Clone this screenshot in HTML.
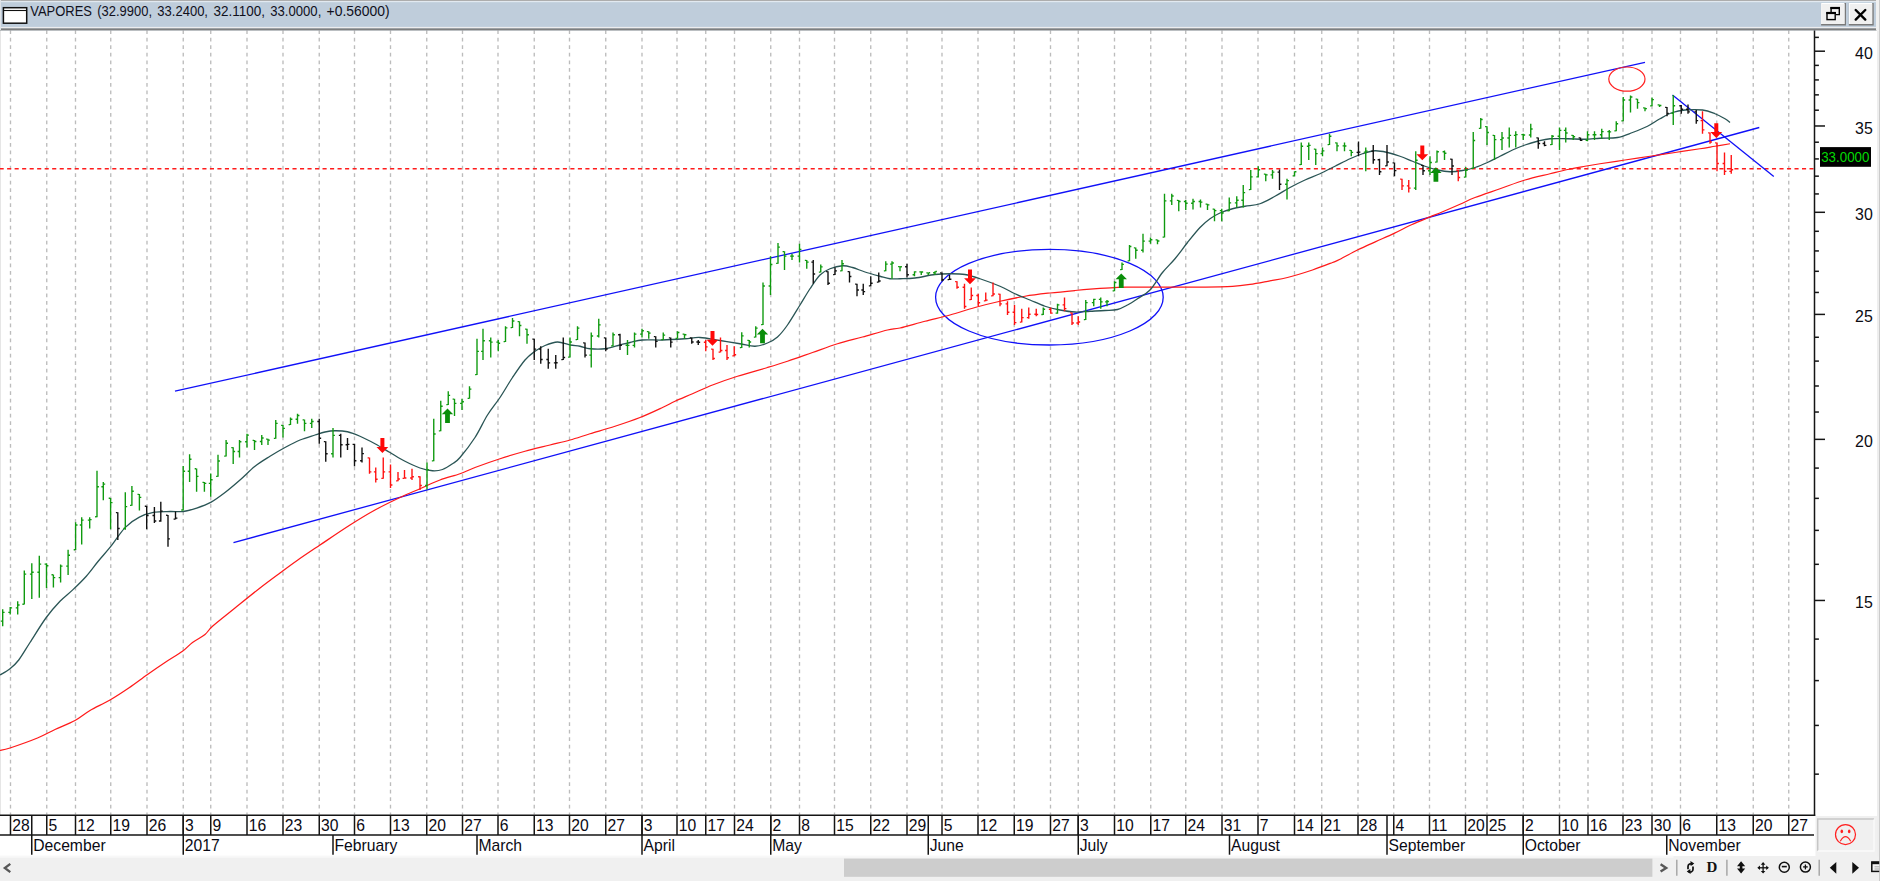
<!DOCTYPE html>
<html lang="en"><head><meta charset="utf-8"><title>VAPORES</title>
<style>
html,body{margin:0;padding:0;background:#fff;overflow:hidden}
body{width:1880px;height:881px;position:relative;font-family:"Liberation Sans",sans-serif}
svg{position:absolute;left:0;top:0;display:block}
text{font-family:"Liberation Sans",sans-serif}
.ax{font-size:15.7px;fill:#0a0a14}
.pr{font-size:15.9px;fill:#0c0c12}
</style></head><body>
<svg width="1880" height="881" viewBox="0 0 1880 881">
<rect x="0" y="0" width="1880" height="881" fill="#ffffff"/>
<rect x="0" y="30" width="1" height="851" fill="#e6e6e6"/>
<g stroke="#bcbcbc" stroke-width="1.35" stroke-dasharray="3.75 3.77" fill="none">
<line x1="10.5" y1="30.3" x2="10.5" y2="814.5"/>
<line x1="46.75" y1="30.3" x2="46.75" y2="814.5"/>
<line x1="75.5" y1="30.3" x2="75.5" y2="814.5"/>
<line x1="110.75" y1="30.3" x2="110.75" y2="814.5"/>
<line x1="147" y1="30.3" x2="147" y2="814.5"/>
<line x1="183.25" y1="30.3" x2="183.25" y2="814.5"/>
<line x1="210.75" y1="30.3" x2="210.75" y2="814.5"/>
<line x1="247" y1="30.3" x2="247" y2="814.5"/>
<line x1="283" y1="30.3" x2="283" y2="814.5"/>
<line x1="319.25" y1="30.3" x2="319.25" y2="814.5"/>
<line x1="354.5" y1="30.3" x2="354.5" y2="814.5"/>
<line x1="390.5" y1="30.3" x2="390.5" y2="814.5"/>
<line x1="426.75" y1="30.3" x2="426.75" y2="814.5"/>
<line x1="462.5" y1="30.3" x2="462.5" y2="814.5"/>
<line x1="498" y1="30.3" x2="498" y2="814.5"/>
<line x1="534.25" y1="30.3" x2="534.25" y2="814.5"/>
<line x1="569.5" y1="30.3" x2="569.5" y2="814.5"/>
<line x1="605.75" y1="30.3" x2="605.75" y2="814.5"/>
<line x1="642" y1="30.3" x2="642" y2="814.5"/>
<line x1="677" y1="30.3" x2="677" y2="814.5"/>
<line x1="705.75" y1="30.3" x2="705.75" y2="814.5"/>
<line x1="734.5" y1="30.3" x2="734.5" y2="814.5"/>
<line x1="770.75" y1="30.3" x2="770.75" y2="814.5"/>
<line x1="799.5" y1="30.3" x2="799.5" y2="814.5"/>
<line x1="834.5" y1="30.3" x2="834.5" y2="814.5"/>
<line x1="870.75" y1="30.3" x2="870.75" y2="814.5"/>
<line x1="907" y1="30.3" x2="907" y2="814.5"/>
<line x1="942" y1="30.3" x2="942" y2="814.5"/>
<line x1="978" y1="30.3" x2="978" y2="814.5"/>
<line x1="1014.25" y1="30.3" x2="1014.25" y2="814.5"/>
<line x1="1050.5" y1="30.3" x2="1050.5" y2="814.5"/>
<line x1="1078.25" y1="30.3" x2="1078.25" y2="814.5"/>
<line x1="1114.5" y1="30.3" x2="1114.5" y2="814.5"/>
<line x1="1150.75" y1="30.3" x2="1150.75" y2="814.5"/>
<line x1="1185.75" y1="30.3" x2="1185.75" y2="814.5"/>
<line x1="1222" y1="30.3" x2="1222" y2="814.5"/>
<line x1="1258" y1="30.3" x2="1258" y2="814.5"/>
<line x1="1294.5" y1="30.3" x2="1294.5" y2="814.5"/>
<line x1="1321.75" y1="30.3" x2="1321.75" y2="814.5"/>
<line x1="1358" y1="30.3" x2="1358" y2="814.5"/>
<line x1="1393.75" y1="30.3" x2="1393.75" y2="814.5"/>
<line x1="1429.5" y1="30.3" x2="1429.5" y2="814.5"/>
<line x1="1465.5" y1="30.3" x2="1465.5" y2="814.5"/>
<line x1="1487" y1="30.3" x2="1487" y2="814.5"/>
<line x1="1523.25" y1="30.3" x2="1523.25" y2="814.5"/>
<line x1="1559.5" y1="30.3" x2="1559.5" y2="814.5"/>
<line x1="1588" y1="30.3" x2="1588" y2="814.5"/>
<line x1="1623" y1="30.3" x2="1623" y2="814.5"/>
<line x1="1652" y1="30.3" x2="1652" y2="814.5"/>
<line x1="1680.5" y1="30.3" x2="1680.5" y2="814.5"/>
<line x1="1716.75" y1="30.3" x2="1716.75" y2="814.5"/>
<line x1="1753.25" y1="30.3" x2="1753.25" y2="814.5"/>
<line x1="1788.75" y1="30.3" x2="1788.75" y2="814.5"/>
</g>
<line x1="-0.4" y1="168.7" x2="1813.5" y2="168.7" stroke="#ff1c1c" stroke-width="1.4" stroke-dasharray="4.1 3.41"/>
<g stroke="#1010f8" stroke-width="1.3" fill="none">
<line x1="175" y1="391.2" x2="1645" y2="62.3"/>
<line x1="233.5" y1="542.6" x2="1759.3" y2="127.5"/>
<line x1="1672.5" y1="95" x2="1773.8" y2="176.5"/>
<ellipse cx="1049.4" cy="297.2" rx="113.8" ry="47.8"/>
</g>
<ellipse cx="1626.9" cy="79.1" rx="18.1" ry="12.1" fill="none" stroke="#ff2020" stroke-width="1.2"/>
<path d="M0 750.5C1.67 750.08 3.75 750.08 10 748C16.25 745.92 30 741.08 37.5 738C45 734.92 48.75 732.42 55 729.5C61.25 726.58 69.17 723.67 75 720.5C80.83 717.33 84.17 713.92 90 710.5C95.83 707.08 103.54 703.75 110 700C116.46 696.25 122.5 692.25 128.75 688C135 683.75 141.46 678.75 147.5 674.5C153.54 670.25 159.17 666.38 165 662.5C170.83 658.62 177.92 654.58 182.5 651.25C187.08 647.92 188.75 645.29 192.5 642.5C196.25 639.71 201.67 637.21 205 634.5C208.33 631.79 207.5 630.67 212.5 626.25C217.5 621.83 227.08 614.38 235 608C242.92 601.62 252.5 593.83 260 588C267.5 582.17 273.75 577.62 280 573C286.25 568.38 290.83 564.92 297.5 560.25C304.17 555.58 311.25 550.88 320 545C328.75 539.12 340.83 530.83 350 525C359.17 519.17 366.67 514.58 375 510C383.33 505.42 392.5 501.04 400 497.5C407.5 493.96 413.33 491.67 420 488.75C426.67 485.83 433.33 482.5 440 480C446.67 477.5 454.17 475.83 460 473.75C465.83 471.67 468.33 470 475 467.5C481.67 465 491.67 461.46 500 458.75C508.33 456.04 516.67 453.54 525 451.25C533.33 448.96 542.5 446.88 550 445C557.5 443.12 563.33 441.88 570 440C576.67 438.12 582.5 436.04 590 433.75C597.5 431.46 606.67 428.96 615 426.25C623.33 423.54 632.08 420.62 640 417.5C647.92 414.38 656.67 410.21 662.5 407.5C668.33 404.79 670 403.54 675 401.25C680 398.96 686.25 396.46 692.5 393.75C698.75 391.04 705 387.92 712.5 385C720 382.08 728.33 379.17 737.5 376.25C746.67 373.33 759.17 370 767.5 367.5C775.83 365 780 363.75 787.5 361.25C795 358.75 804.17 355.42 812.5 352.5C820.83 349.58 829.17 346.33 837.5 343.75C845.83 341.17 854.17 339.29 862.5 337C870.83 334.71 881.25 331.5 887.5 330C893.75 328.5 893.75 329.46 900 328C906.25 326.54 916.67 323.42 925 321.25C933.33 319.08 941.67 317.29 950 315C958.33 312.71 966.67 309.79 975 307.5C983.33 305.21 991.67 303.12 1000 301.25C1008.33 299.38 1016.67 297.62 1025 296.25C1033.33 294.88 1041.67 293.96 1050 293C1058.33 292.04 1066.67 291.27 1075 290.5C1083.33 289.73 1092.83 288.93 1100 288.4C1107.17 287.87 1112.17 287.5 1118 287.3C1123.83 287.1 1126.33 287.22 1135 287.2C1143.67 287.18 1159.17 287.22 1170 287.2C1180.83 287.18 1189.58 287.25 1200 287.1C1210.42 286.95 1224.17 286.75 1232.5 286.3C1240.83 285.85 1243.75 285.32 1250 284.4C1256.25 283.48 1263.75 281.95 1270 280.8C1276.25 279.65 1280.42 279.3 1287.5 277.5C1294.58 275.7 1305 272.5 1312.5 270C1320 267.5 1327.92 264.29 1332.5 262.5C1337.08 260.71 1335.77 261.38 1340 259.25C1344.23 257.12 1351.94 252.69 1357.9 249.75C1363.86 246.81 1369.72 244.32 1375.75 241.6C1381.78 238.88 1388.14 236.22 1394.1 233.4C1400.06 230.58 1405.62 227.42 1411.5 224.7C1417.38 221.98 1424.3 219.22 1429.4 217.1C1434.5 214.98 1437 214.13 1442.1 212C1447.2 209.87 1454.52 206.72 1460 204.3C1465.48 201.88 1468.33 200.09 1475 197.5C1481.67 194.91 1491.67 191.67 1500 188.75C1508.33 185.83 1516.67 182.5 1525 180C1533.33 177.5 1542.92 175.5 1550 173.75C1557.08 172 1561.67 170.75 1567.5 169.5C1573.33 168.25 1579.58 167.21 1585 166.25C1590.42 165.29 1593.33 164.79 1600 163.75C1606.67 162.71 1616.67 161.25 1625 160C1633.33 158.75 1641.67 157.5 1650 156.25C1658.33 155 1666.67 153.75 1675 152.5C1683.33 151.25 1693.33 149.79 1700 148.75C1706.67 147.71 1710 147.08 1715 146.25C1720 145.42 1727.5 144.17 1730 143.75" fill="none" stroke="#ff1a1a" stroke-width="1.25" stroke-linejoin="round"/>
<path d="M0 675C1.67 673.96 6.88 671.25 10 668.75C13.12 666.25 15.42 664.38 18.75 660C22.08 655.62 25.42 649.58 30 642.5C34.58 635.42 41.25 624.38 46.25 617.5C51.25 610.62 55.59 605.85 60 601.25C64.41 596.65 68.32 594.07 72.7 589.9C77.08 585.73 82.08 580.93 86.3 576.2C90.52 571.47 93.95 566.42 98 561.5C102.05 556.58 106.05 552.38 110.6 546.7C115.15 541.02 120.5 532.32 125.3 527.4C130.1 522.48 134.55 519.73 139.4 517.2C144.25 514.67 149.3 513.15 154.4 512.2C159.5 511.25 165.2 511.62 170 511.5C174.8 511.38 178.77 512.07 183.2 511.5C187.63 510.93 192.02 509.62 196.6 508.1C201.18 506.58 205.97 505 210.7 502.4C215.43 499.8 220.12 496.23 225 492.5C229.88 488.77 235 484.38 240 480C245 475.62 250 470.21 255 466.25C260 462.29 265 459.38 270 456.25C275 453.12 280 450.21 285 447.5C290 444.79 295 442.08 300 440C305 437.92 310.83 436.33 315 435C319.17 433.67 321.67 432.71 325 432C328.33 431.29 331.25 430.79 335 430.75C338.75 430.71 343.33 430.83 347.5 431.75C351.67 432.67 355.42 434.25 360 436.25C364.58 438.25 370 441.04 375 443.75C380 446.46 385 449.58 390 452.5C395 455.42 400 458.67 405 461.25C410 463.83 415.42 466.42 420 468C424.58 469.58 428.75 470.5 432.5 470.75C436.25 471 439.17 470.67 442.5 469.5C445.83 468.33 449.58 465.75 452.5 463.75C455.42 461.75 456.25 461.88 460 457.5C463.75 453.12 470.42 444.58 475 437.5C479.58 430.42 483.33 421.67 487.5 415C491.67 408.33 495.83 403.75 500 397.5C504.17 391.25 508.33 383.75 512.5 377.5C516.67 371.25 521.25 364.38 525 360C528.75 355.62 531.67 353.67 535 351.25C538.33 348.83 541.25 347.04 545 345.5C548.75 343.96 553.33 342.08 557.5 342C561.67 341.92 566.25 344.29 570 345C573.75 345.71 576.67 345.62 580 346.25C583.33 346.88 585.83 348.33 590 348.75C594.17 349.17 600 349.38 605 348.75C610 348.12 615.83 346.04 620 345C624.17 343.96 626.25 343.33 630 342.5C633.75 341.67 637.08 340.42 642.5 340C647.92 339.58 655.42 340.21 662.5 340C669.58 339.79 678.75 339.17 685 338.75C691.25 338.33 694.17 337.21 700 337.5C705.83 337.79 713.33 339.46 720 340.5C726.67 341.54 734.17 342.79 740 343.75C745.83 344.71 750.42 346.38 755 346.25C759.58 346.12 763.75 344.54 767.5 343C771.25 341.46 774.17 340 777.5 337C780.83 334 783.75 330.33 787.5 325C791.25 319.67 796.25 311.04 800 305C803.75 298.96 806.67 293.75 810 288.75C813.33 283.75 816.67 278.33 820 275C823.33 271.67 826.25 270.29 830 268.75C833.75 267.21 838.75 265.96 842.5 265.75C846.25 265.54 848.75 266.46 852.5 267.5C856.25 268.54 860.42 270.54 865 272C869.58 273.46 875.83 275.12 880 276.25C884.17 277.38 886.67 278.33 890 278.75C893.33 279.17 895.83 278.88 900 278.75C904.17 278.62 909.17 278.71 915 278C920.83 277.29 929.17 275.21 935 274.5C940.83 273.79 945 273.75 950 273.75C955 273.75 960 273.67 965 274.5C970 275.33 974.17 276.79 980 278.75C985.83 280.71 994.17 283.75 1000 286.25C1005.83 288.75 1010 291.46 1015 293.75C1020 296.04 1025 297.92 1030 300C1035 302.08 1040 304.58 1045 306.25C1050 307.92 1055 309.04 1060 310C1065 310.96 1070 311.79 1075 312C1080 312.21 1085 311.5 1090 311.25C1095 311 1100.42 310.79 1105 310.5C1109.58 310.21 1113.75 310.42 1117.5 309.5C1121.25 308.58 1124.17 306.79 1127.5 305C1130.83 303.21 1133.75 301.25 1137.5 298.75C1141.25 296.25 1145.83 294.38 1150 290C1154.17 285.62 1158.33 277.71 1162.5 272.5C1166.67 267.29 1170.83 263.75 1175 258.75C1179.17 253.75 1183.33 247.71 1187.5 242.5C1191.67 237.29 1196.25 231.46 1200 227.5C1203.75 223.54 1206.67 221.17 1210 218.75C1213.33 216.33 1216.25 214.67 1220 213C1223.75 211.33 1228.33 209.88 1232.5 208.75C1236.67 207.62 1240.42 207.08 1245 206.25C1249.58 205.42 1255 205.42 1260 203.75C1265 202.08 1270 198.96 1275 196.25C1280 193.54 1285 190.21 1290 187.5C1295 184.79 1300 182.29 1305 180C1310 177.71 1315 176.04 1320 173.75C1325 171.46 1330 168.75 1335 166.25C1340 163.75 1345.42 160.83 1350 158.75C1354.58 156.67 1358.33 155.08 1362.5 153.75C1366.67 152.42 1370.83 150.96 1375 150.75C1379.17 150.54 1383.33 151.58 1387.5 152.5C1391.67 153.42 1395.83 154.79 1400 156.25C1404.17 157.71 1408.33 159.58 1412.5 161.25C1416.67 162.92 1420.83 164.79 1425 166.25C1429.17 167.71 1433.33 169.08 1437.5 170C1441.67 170.92 1445.83 171.67 1450 171.75C1454.17 171.83 1458.33 171.21 1462.5 170.5C1466.67 169.79 1470.83 168.83 1475 167.5C1479.17 166.17 1483.33 164.38 1487.5 162.5C1491.67 160.62 1495.83 158.33 1500 156.25C1504.17 154.17 1508.33 151.88 1512.5 150C1516.67 148.12 1520.83 146.46 1525 145C1529.17 143.54 1533.33 142.29 1537.5 141.25C1541.67 140.21 1545 139.17 1550 138.75C1555 138.33 1561.67 138.67 1567.5 138.75C1573.33 138.83 1579.58 139.33 1585 139.25C1590.42 139.17 1594.58 138.54 1600 138.25C1605.42 137.96 1612.08 138.46 1617.5 137.5C1622.92 136.54 1627.5 134.38 1632.5 132.5C1637.5 130.62 1642.92 128.54 1647.5 126.25C1652.08 123.96 1655.83 121.04 1660 118.75C1664.17 116.46 1668.33 113.96 1672.5 112.5C1676.67 111.04 1680 110.42 1685 110C1690 109.58 1697.5 109.38 1702.5 110C1707.5 110.62 1711.25 112.29 1715 113.75C1718.75 115.21 1722.5 117.29 1725 118.75C1727.5 120.21 1729.17 121.88 1730 122.5" fill="none" stroke="#2a5555" stroke-width="1.3" stroke-linejoin="round"/>
<path d="M2.7 609.2V626.2M0.8 621.1h1.4M3.2 612.32h1.4M10.2 606.9V614.4M8.3 612.32h1.4M10.7 607.86h1.4M17.7 601.2V614.4M15.8 607.86h1.4M18.2 605.01h1.4M24.3 570.6V604.6M22.4 604.2h1.4M24.8 574.11h1.4M31.8 563.3V599M29.9 574.11h1.4M32.3 572.28h1.4M39.3 555.8V597.8M37.4 572.28h1.4M39.8 564.07h1.4M46.5 563.3V588M44.6 564.07h1.4M47 565.73h1.4M53.4 574.4V587.6M51.5 574.8h1.4M53.9 577.6h1.4M60.6 564.4V582.6M58.7 577.6h1.4M61.1 566.07h1.4M68.1 549.7V575.1M66.2 566.07h1.4M68.6 555.26h1.4M75.6 522.2V550.1M73.7 549.7h1.4M76.1 525.06h1.4M81.7 517.2V544.5M79.8 525.06h1.4M82.2 520.18h1.4M89.7 517.2V528.6M87.8 520.18h1.4M90.2 519.66h1.4M97 470.7V517.2M95.1 516.8h1.4M97.5 486.72h1.4M103.3 482V500.2M101.4 486.72h1.4M103.8 484.18h1.4M110.6 497.9V529.2M108.7 498.3h1.4M111.1 502.64h1.4M125.3 492.2V529.7M123.4 528.44h1.4M125.8 506.57h1.4M131.9 486.1V505.8M130 505.4h1.4M132.4 491.31h1.4M139.4 494V510.4M137.5 494.4h1.4M139.9 497.39h1.4M183.2 466.1V510.4M181.3 510h1.4M183.7 471.31h1.4M189.6 454.3V482M187.7 471.31h1.4M190.1 459.25h1.4M196.6 468.4V491.8M194.7 468.8h1.4M197.1 476.38h1.4M204.4 482V491.8M202.5 482.4h1.4M204.9 483.35h1.4M210.7 473.6V496.8M208.8 483.35h1.4M211.2 479.77h1.4M218 454.8V476.8M216.1 476.4h1.4M218.5 461.06h1.4M226.1 440V456.5M224.2 456.1h1.4M226.6 443.29h1.4M233.2 447.2V464M231.3 447.6h1.4M233.7 451.49h1.4M239.5 440V457.5M237.6 451.49h1.4M240 441.75h1.4M247 433.75V447.5M245.1 441.75h1.4M247.5 435.11h1.4M254.5 440V450M252.6 440.4h1.4M255 441.46h1.4M261.75 435V445M259.85 441.46h1.4M262.25 437.98h1.4M268 438.75V445M266.1 439.15h1.4M268.5 440.11h1.4M275.75 420V438.75M273.85 438.35h1.4M276.25 423.38h1.4M283 425V437.5M281.1 425.4h1.4M283.5 428.34h1.4M290.5 417.5V425M288.6 424.6h1.4M291 419.19h1.4M297.5 413.75V423.75M295.6 419.19h1.4M298 415.51h1.4M304.5 419.5V431.25M302.6 419.9h1.4M305 423.43h1.4M311.75 418.75V428M309.85 423.43h1.4M312.25 421.56h1.4M333 428V457.5M331.1 453.81h1.4M333.5 435.32h1.4M427 462.5V489.5M425.1 485.54h1.4M427.5 469.61h1.4M433.75 418.75V461.25M431.85 460.85h1.4M434.25 434.06h1.4M440.75 400.75V431.25M438.85 430.85h1.4M441.25 406.25h1.4M448.25 391.25V405M446.35 404.6h1.4M448.75 395.41h1.4M454.5 398.75V416M452.6 399.15h1.4M455 403.41h1.4M462 398.75V410M460.1 403.41h1.4M462.5 401.74h1.4M469.5 386.25V398.75M467.6 398.35h1.4M470 389.07h1.4M477 338.75V375M475.1 374.6h1.4M477.5 351.39h1.4M483 328.75V360M481.1 351.39h1.4M483.5 340.7h1.4M490.75 337.5V357.5M488.85 340.7h1.4M491.25 342.13h1.4M498.25 340V351.25M496.35 342.13h1.4M498.75 343.29h1.4M505.5 326.25V342M503.6 341.6h1.4M506 327.82h1.4M512.5 318V328M510.6 327.6h1.4M513 321.04h1.4M519.5 321.25V336.25M517.6 321.65h1.4M520 325.56h1.4M527 328.75V343.75M525.1 329.15h1.4M527.5 334.72h1.4M570 337.5V357.5M568.1 357.1h1.4M570.5 342.05h1.4M577.5 326.25V340M575.6 339.6h1.4M578 328.09h1.4M591.25 332.5V367.5M589.35 355.12h1.4M591.75 335.96h1.4M598.75 318.75V337.5M596.85 335.96h1.4M599.25 324.86h1.4M613 332.5V346.25M611.1 345.85h1.4M613.5 334.69h1.4M627.5 340V355M625.6 345.2h1.4M628 345.38h1.4M634.5 332.5V347.5M632.6 345.38h1.4M635 334.09h1.4M642 328.75V337.5M640.1 334.09h1.4M642.5 330.71h1.4M648.75 331.25V338.75M646.85 331.65h1.4M649.25 333.17h1.4M663.25 332.5V340M661.35 339.6h1.4M663.75 335.07h1.4M677.5 331.25V338.75M675.6 338.35h1.4M678 332.52h1.4M684.5 333.75V338.75M682.6 334.15h1.4M685 334.81h1.4M741.75 332.2V348M739.85 347.6h1.4M742.25 335.92h1.4M749.25 340V347.5M747.35 340.4h1.4M749.75 342.01h1.4M755.75 326.25V337.5M753.85 337.1h1.4M756.25 328.1h1.4M763 282.5V325M761.1 324.6h1.4M763.5 285.96h1.4M770.5 256.25V295M768.6 285.96h1.4M771 264.54h1.4M778 243V263.75M776.1 263.35h1.4M778.5 247.11h1.4M784.5 251.25V270M782.6 251.65h1.4M785 256.15h1.4M792 253.75V260M790.1 256.15h1.4M792.5 256.16h1.4M799.5 243.75V262.5M797.6 256.16h1.4M800 249.39h1.4M806.75 260V268.75M804.85 260.4h1.4M807.25 262.14h1.4M820.75 264.5V272.5M818.85 272.1h1.4M821.25 266.87h1.4M842 260V271.25M840.1 270.85h1.4M842.5 263.71h1.4M885.75 261.25V271.25M883.85 270.85h1.4M886.25 264.08h1.4M892 261.25V278.75M890.1 264.08h1.4M892.5 263h1.4M900 266.25V271.25M898.1 266.65h1.4M900.5 266.76h1.4M914.5 271.25V276.25M912.6 274.69h1.4M915 271.91h1.4M921.25 271.25V275M919.35 271.91h1.4M921.75 271.96h1.4M928.25 272.5V275M926.35 272.9h1.4M928.75 272.74h1.4M935 271.25V275M933.1 272.74h1.4M935.5 271.55h1.4M1043.25 307.5V315M1041.35 314.53h1.4M1043.75 309.26h1.4M1057.5 303.75V313.75M1055.6 313.08h1.4M1058 304.88h1.4M1085.75 300V320M1083.85 319.6h1.4M1086.25 302.63h1.4M1093.75 298.75V306.25M1091.85 302.63h1.4M1094.25 299.41h1.4M1100.75 297.5V308.75M1098.85 299.41h1.4M1101.25 301.82h1.4M1107 300V306.25M1105.1 301.82h1.4M1107.5 301.56h1.4M1114.5 281.25V291.25M1112.6 290.85h1.4M1115 282.52h1.4M1122 262.5V270M1120.1 269.6h1.4M1122.5 264.4h1.4M1129.5 245V261.25M1127.6 260.85h1.4M1130 246.44h1.4M1135.75 247.5V258.75M1133.85 247.9h1.4M1136.25 250.3h1.4M1143 233.75V252.5M1141.1 250.3h1.4M1143.5 241.12h1.4M1150.5 237.5V243.75M1148.6 241.12h1.4M1151 239.73h1.4M1157.5 239.5V244.25M1155.6 239.9h1.4M1158 240.94h1.4M1164.5 193.75V237.5M1162.6 237.1h1.4M1165 200.91h1.4M1171.75 193.75V205M1169.85 200.91h1.4M1172.25 195.97h1.4M1178.75 200V211.25M1176.85 200.4h1.4M1179.25 201.5h1.4M1185.75 200V210M1183.85 201.5h1.4M1186.25 203.27h1.4M1193 198.75V209.5M1191.1 203.27h1.4M1193.5 201.44h1.4M1200.5 199.5V207.5M1198.6 201.44h1.4M1201 202.13h1.4M1207.5 203.75V210M1205.6 204.15h1.4M1208 204.91h1.4M1214.5 208.75V221.25M1212.6 209.15h1.4M1215 210.64h1.4M1221.75 208.75V221.25M1219.85 210.64h1.4M1222.25 213h1.4M1229.25 197.5V211.25M1227.35 210.85h1.4M1229.75 202.93h1.4M1236.75 196.25V207.5M1234.85 202.93h1.4M1237.25 200.22h1.4M1243.25 185V207.5M1241.35 200.22h1.4M1243.75 192.6h1.4M1250.75 170V190M1248.85 189.6h1.4M1251.25 176.84h1.4M1258.25 166.25V177.5M1256.35 176.84h1.4M1258.75 169.81h1.4M1265.75 173.75V181.25M1263.85 174.15h1.4M1266.25 174.89h1.4M1272.5 170V178.75M1270.6 174.89h1.4M1273 172.15h1.4M1287 178.75V199.5M1285.1 184.31h1.4M1287.5 180.6h1.4M1294.5 171.25V176.25M1292.6 175.85h1.4M1295 171.69h1.4M1301.25 142.5V165M1299.35 164.6h1.4M1301.75 146.31h1.4M1308.75 142.5V160M1306.85 146.31h1.4M1309.25 145.35h1.4M1315.75 148.75V165M1313.85 149.15h1.4M1316.25 153.65h1.4M1322.5 147.5V156.25M1320.6 153.65h1.4M1323 150.88h1.4M1329.5 133.75V145M1327.6 144.6h1.4M1330 136.26h1.4M1337 142.5V151.25M1335.1 142.9h1.4M1337.5 145.82h1.4M1344.5 142.5V151.25M1342.6 145.82h1.4M1345 145.97h1.4M1351.25 150V156.25M1349.35 150.4h1.4M1351.75 152.41h1.4M1365.75 147.5V171.25M1363.85 152.09h1.4M1366.25 151.08h1.4M1415.75 151.25V190M1413.85 188.14h1.4M1416.25 160.3h1.4M1430 156.25V175M1428.1 170.74h1.4M1430.5 162.55h1.4M1437 150.5V162.5M1435.1 162.1h1.4M1437.5 151.79h1.4M1444.5 150.5V160M1442.6 151.79h1.4M1445 153.27h1.4M1465.75 167V177.5M1463.85 177.1h1.4M1466.25 170.36h1.4M1473.25 132V168.75M1471.35 168.35h1.4M1473.75 140.56h1.4M1480.75 118V128.75M1478.85 128.35h1.4M1481.25 119.47h1.4M1487 126.25V145M1485.1 126.65h1.4M1487.5 132.48h1.4M1494.5 135V160M1492.6 135.4h1.4M1495 139.66h1.4M1502 132V150M1500.1 139.66h1.4M1502.5 138.05h1.4M1509.25 127.5V147.5M1507.35 138.05h1.4M1509.75 135.32h1.4M1515.75 131.25V147.5M1513.85 135.32h1.4M1516.25 134.61h1.4M1523.25 133.75V140M1521.35 134.61h1.4M1523.75 135.05h1.4M1530.75 123.75V137.5M1528.85 135.05h1.4M1531.25 129.02h1.4M1552 135V145M1550.1 144.6h1.4M1552.5 136.21h1.4M1559.5 127.5V150M1557.6 136.21h1.4M1560 130.39h1.4M1565.75 127.5V142.5M1563.85 130.39h1.4M1566.25 133.04h1.4M1573.25 135V140M1571.35 135.4h1.4M1573.75 136.69h1.4M1587.5 131.25V141.25M1585.6 140.39h1.4M1588 134.69h1.4M1594.5 131.25V140M1592.6 134.69h1.4M1595 134.69h1.4M1601.75 128.75V138.75M1599.85 134.69h1.4M1602.25 131.65h1.4M1609.25 130V140M1607.35 131.65h1.4M1609.75 131.92h1.4M1616.25 121.25V131.25M1614.35 130.85h1.4M1616.75 123.81h1.4M1623.25 97V121.25M1621.35 120.85h1.4M1623.75 99.96h1.4M1630.5 95.5V112.5M1628.6 99.96h1.4M1631 96.94h1.4M1637.5 98.75V108.75M1635.6 99.15h1.4M1638 102.66h1.4M1645 107.5V111.25M1643.1 107.9h1.4M1645.5 108.58h1.4M1652 97.5V106.25M1650.1 105.85h1.4M1652.5 99.67h1.4M1659.5 104.5V107M1657.6 104.9h1.4M1660 105.45h1.4M1673.25 95V125M1671.35 113.32h1.4M1673.75 105.77h1.4" stroke="#0f9a0f" stroke-width="1.38" fill="none"/>
<path d="M117.8 512.2V539.9M115.9 512.6h1.4M118.3 528.44h1.4M146.7 505.8V529.2M144.8 506.2h1.4M147.2 515.44h1.4M154.4 507V522.9M152.5 515.44h1.4M154.9 520.94h1.4M160.8 501.8V521.7M158.9 520.94h1.4M161.3 511.17h1.4M168 514.9V546.7M166.1 515.3h1.4M168.5 538.92h1.4M175.5 511.5V519.5M173.6 519.1h1.4M176 518.12h1.4M319.25 418.75V443.75M317.35 421.56h1.4M319.75 438.2h1.4M325.75 441.25V461.75M323.85 441.65h1.4M326.25 453.81h1.4M340.75 433.75V457.5M338.85 435.32h1.4M341.25 444.73h1.4M347.5 438V450M345.6 444.73h1.4M348 444.42h1.4M354.5 443.75V466.25M352.6 444.42h1.4M355 460.76h1.4M362 447.5V462.5M360.1 460.76h1.4M362.5 453.65h1.4M534.25 338.75V360M532.35 339.15h1.4M534.75 349.14h1.4M540.75 346.25V363.75M538.85 349.14h1.4M541.25 359.51h1.4M548.25 348.75V368.75M546.35 359.51h1.4M548.75 362.89h1.4M555.75 355V368.75M553.85 362.89h1.4M556.25 362.78h1.4M563.25 337.5V360M561.35 359.6h1.4M563.75 357.5h1.4M585 342.5V357.5M583.1 342.9h1.4M585.5 355.12h1.4M605.75 337.5V351.25M603.85 337.9h1.4M606.25 348.99h1.4M620 333.75V350M618.1 334.69h1.4M620.5 345.2h1.4M655.75 336.25V347.5M653.85 336.65h1.4M656.25 341.41h1.4M670.75 337.5V347.5M668.85 337.9h1.4M671.25 342.18h1.4M691.75 337.5V343.75M689.85 337.9h1.4M692.25 342h1.4M698.25 340V345M696.35 342h1.4M698.75 342.29h1.4M813.25 260V283.75M811.35 262.14h1.4M813.75 274.04h1.4M828 271.25V285M826.1 271.65h1.4M828.5 283.25h1.4M835 267.5V275M833.1 274.6h1.4M835.5 270.88h1.4M849.5 271.25V282.5M847.6 271.65h1.4M850 276.46h1.4M857 283.75V296.25M855.1 284.15h1.4M857.5 290.01h1.4M863.25 283.75V295M861.35 290.01h1.4M863.75 291.67h1.4M870.75 276.25V286.25M868.85 285.85h1.4M871.25 283.26h1.4M878.75 272.5V282.5M876.85 282.1h1.4M879.25 280.98h1.4M907 263.75V277.5M905.1 266.76h1.4M907.5 274.69h1.4M942 272.5V281.25M940.1 272.9h1.4M942.5 279.71h1.4M949.5 275V280M947.6 279.6h1.4M950 279.25h1.4M1279.5 169.5V190M1277.6 172.15h1.4M1280 184.31h1.4M1358.5 141.5V156.25M1356.6 152.41h1.4M1359 152.09h1.4M1373.25 145V163.75M1371.35 151.08h1.4M1373.75 159.75h1.4M1379.5 158.75V175M1377.6 159.75h1.4M1380 171.78h1.4M1387 145V166.25M1385.1 165.85h1.4M1387.5 161.95h1.4M1394.5 162.5V176.25M1392.6 162.9h1.4M1395 170.58h1.4M1423 165V175M1421.1 165.4h1.4M1423.5 170.74h1.4M1452 158.75V175M1450.1 159.15h1.4M1452.5 165.98h1.4M1538.25 137.5V148.75M1536.35 137.9h1.4M1538.75 143.55h1.4M1544.5 141.25V146.25M1542.6 143.55h1.4M1545 145.32h1.4M1580.5 137.5V141M1578.6 137.9h1.4M1581 140.39h1.4M1667 107V116.25M1665.1 107.4h1.4M1667.5 113.32h1.4M1681.25 105V113.75M1679.35 105.77h1.4M1681.75 109.26h1.4M1688 104.5V113.75M1686.1 109.26h1.4M1688.5 111.85h1.4M1696.25 110V123.75M1694.35 111.85h1.4M1696.75 120.64h1.4" stroke="#101010" stroke-width="1.38" fill="none"/>
<path d="M369.5 457.5V473.75M367.6 457.9h1.4M370 471.84h1.4M375.75 467.5V482.5M373.85 471.84h1.4M376.25 479.29h1.4M383.25 457.5V478.75M381.35 478.35h1.4M383.75 471.9h1.4M390.5 464.5V488M388.6 471.9h1.4M391 484.98h1.4M398 472V481.25M396.1 480.85h1.4M398.5 479.06h1.4M404.5 470V478.75M402.6 478.35h1.4M405 477.94h1.4M412 468.75V480M410.1 477.94h1.4M412.5 476.69h1.4M420 476.25V490M418.1 476.69h1.4M420.5 485.54h1.4M705.75 340V351.25M703.85 342.29h1.4M706.25 346.9h1.4M713 348.75V360M711.1 349.15h1.4M713.5 358.56h1.4M720.5 337.5V352.5M718.6 352.1h1.4M721 350.45h1.4M727 345V360M725.1 350.45h1.4M727.5 357.69h1.4M734.25 346.25V356.25M732.35 355.85h1.4M734.75 354.7h1.4M957 281.25V288.75M955.1 281.65h1.4M957.5 287.28h1.4M964.5 283.75V308.75M962.6 287.28h1.4M965 306.55h1.4M971.25 287.5V300M969.35 299.6h1.4M971.75 295.5h1.4M978.25 293.75V306.25M976.35 295.5h1.4M978.75 302.79h1.4M985.75 292.5V301.25M983.85 300.85h1.4M986.25 300.13h1.4M993 282.5V296.25M991.1 295.85h1.4M993.5 294.04h1.4M1000 293.75V306.25M998.1 294.15h1.4M1000.5 303.86h1.4M1007.5 301.25V315M1005.6 303.86h1.4M1008 312.3h1.4M1014.5 305V325M1012.6 312.3h1.4M1015 322.61h1.4M1021.75 308.75V322.5M1019.85 322.1h1.4M1022.25 317.66h1.4M1028.75 307.5V318.75M1026.85 317.66h1.4M1029.25 314.27h1.4M1036.25 308.75V316.25M1034.35 314.27h1.4M1036.75 314.53h1.4M1050.75 307.5V313.75M1048.85 309.26h1.4M1051.25 313.08h1.4M1064.5 297.5V311.25M1062.6 304.88h1.4M1065 308.64h1.4M1072 312.5V325M1070.1 312.9h1.4M1072.5 322.94h1.4M1078.25 316.25V325M1076.35 322.94h1.4M1078.75 321.98h1.4M1402 178.75V190M1400.1 179.15h1.4M1402.5 185.86h1.4M1408.75 180V192.5M1406.85 185.86h1.4M1409.25 188.14h1.4M1458.25 170V181.25M1456.35 170.4h1.4M1458.75 177.53h1.4M1702.5 111.25V133.75M1700.6 120.64h1.4M1703 129.84h1.4M1710 132.5V143.75M1708.1 132.9h1.4M1710.5 141.98h1.4M1717 142.5V171.25M1715.1 142.9h1.4M1717.5 163.55h1.4M1724.5 152.5V175M1722.6 163.55h1.4M1725 171.33h1.4M1731.25 155V173.75M1729.35 171.33h1.4M1731.75 169.74h1.4" stroke="#ff1212" stroke-width="1.38" fill="none"/>
<path d="M380.4 438.1h4v8.8h3.9l-5.9 6l-5.9-6h3.9z" fill="#ff0808"/>
<path d="M447.5 408.5l5.7 5.8h-3.3v8.7h-4.8v-8.7h-3.3z" fill="#0a8e0a"/>
<path d="M710.5 331h4v8.8h3.9l-5.9 6l-5.9-6h3.9z" fill="#ff0808"/>
<path d="M762.5 328.75l5.7 5.8h-3.3v8.7h-4.8v-8.7h-3.3z" fill="#0a8e0a"/>
<path d="M968 269.5h4v8.8h3.9l-5.9 6l-5.9-6h3.9z" fill="#ff0808"/>
<path d="M1121.25 273.5l5.7 5.8h-3.3v8.7h-4.8v-8.7h-3.3z" fill="#0a8e0a"/>
<path d="M1420.3 145.4h4v8.8h3.9l-5.9 6l-5.9-6h3.9z" fill="#ff0808"/>
<path d="M1435.9 167.3l5.7 5.8h-3.3v8.7h-4.8v-8.7h-3.3z" fill="#0a8e0a"/>
<path d="M1714.3 123.3h4v8.8h3.9l-5.9 6l-5.9-6h3.9z" fill="#ff0808"/>
<rect x="1815" y="30" width="65" height="785" fill="#ffffff"/>
<g stroke="#151515" stroke-width="1.5">
<line x1="1814.5" y1="30" x2="1814.5" y2="816"/>
<line x1="1815" y1="774.15" x2="1818.9" y2="774.15"/>
<line x1="1815" y1="725.42" x2="1818.9" y2="725.42"/>
<line x1="1815" y1="680.6" x2="1818.9" y2="680.6"/>
<line x1="1815" y1="639.1" x2="1818.9" y2="639.1"/>
<line x1="1815" y1="600.46" x2="1825" y2="600.46"/>
<line x1="1815" y1="564.32" x2="1818.9" y2="564.32"/>
<line x1="1815" y1="530.37" x2="1818.9" y2="530.37"/>
<line x1="1815" y1="498.36" x2="1818.9" y2="498.36"/>
<line x1="1815" y1="468.09" x2="1818.9" y2="468.09"/>
<line x1="1815" y1="439.36" x2="1825" y2="439.36"/>
<line x1="1815" y1="412.04" x2="1818.9" y2="412.04"/>
<line x1="1815" y1="385.99" x2="1818.9" y2="385.99"/>
<line x1="1815" y1="361.1" x2="1818.9" y2="361.1"/>
<line x1="1815" y1="337.26" x2="1818.9" y2="337.26"/>
<line x1="1815" y1="314.4" x2="1825" y2="314.4"/>
<line x1="1815" y1="292.44" x2="1818.9" y2="292.44"/>
<line x1="1815" y1="271.3" x2="1818.9" y2="271.3"/>
<line x1="1815" y1="250.94" x2="1818.9" y2="250.94"/>
<line x1="1815" y1="231.29" x2="1818.9" y2="231.29"/>
<line x1="1815" y1="212.3" x2="1825" y2="212.3"/>
<line x1="1815" y1="193.94" x2="1818.9" y2="193.94"/>
<line x1="1815" y1="176.16" x2="1818.9" y2="176.16"/>
<line x1="1815" y1="158.93" x2="1818.9" y2="158.93"/>
<line x1="1815" y1="142.21" x2="1818.9" y2="142.21"/>
<line x1="1815" y1="125.98" x2="1825" y2="125.98"/>
<line x1="1815" y1="110.2" x2="1818.9" y2="110.2"/>
<line x1="1815" y1="94.86" x2="1818.9" y2="94.86"/>
<line x1="1815" y1="79.92" x2="1818.9" y2="79.92"/>
<line x1="1815" y1="65.38" x2="1818.9" y2="65.38"/>
<line x1="1815" y1="51.2" x2="1825" y2="51.2"/>
<line x1="1815" y1="37.37" x2="1818.9" y2="37.37"/>
</g>
<text class="pr" x="1872.8" y="608.46" text-anchor="end">15</text>
<text class="pr" x="1872.8" y="447.36" text-anchor="end">20</text>
<text class="pr" x="1872.8" y="322.4" text-anchor="end">25</text>
<text class="pr" x="1872.8" y="220.3" text-anchor="end">30</text>
<text class="pr" x="1872.8" y="133.98" text-anchor="end">35</text>
<text class="pr" x="1872.8" y="59.2" text-anchor="end">40</text>
<rect x="1820" y="147.1" width="51" height="19.7" fill="#000"/>
<text x="1821.2" y="161.9" font-size="13.8" fill="#04d804" textLength="48.2" lengthAdjust="spacingAndGlyphs">33.0000</text>
<rect x="0" y="815" width="1814" height="41" fill="#ffffff"/>
<g stroke="#151515" stroke-width="1.5">
<line x1="0" y1="815.2" x2="1815.2" y2="815.2"/>
<line x1="0" y1="835.1" x2="1814" y2="835.1"/>
<line x1="10.5" y1="815" x2="10.5" y2="835"/>
<line x1="46.75" y1="815" x2="46.75" y2="835"/>
<line x1="75.5" y1="815" x2="75.5" y2="835"/>
<line x1="110.75" y1="815" x2="110.75" y2="835"/>
<line x1="147" y1="815" x2="147" y2="835"/>
<line x1="183.25" y1="815" x2="183.25" y2="835"/>
<line x1="210.75" y1="815" x2="210.75" y2="835"/>
<line x1="247" y1="815" x2="247" y2="835"/>
<line x1="283" y1="815" x2="283" y2="835"/>
<line x1="319.25" y1="815" x2="319.25" y2="835"/>
<line x1="354.5" y1="815" x2="354.5" y2="835"/>
<line x1="390.5" y1="815" x2="390.5" y2="835"/>
<line x1="426.75" y1="815" x2="426.75" y2="835"/>
<line x1="462.5" y1="815" x2="462.5" y2="835"/>
<line x1="498" y1="815" x2="498" y2="835"/>
<line x1="534.25" y1="815" x2="534.25" y2="835"/>
<line x1="569.5" y1="815" x2="569.5" y2="835"/>
<line x1="605.75" y1="815" x2="605.75" y2="835"/>
<line x1="642" y1="815" x2="642" y2="835"/>
<line x1="677" y1="815" x2="677" y2="835"/>
<line x1="705.75" y1="815" x2="705.75" y2="835"/>
<line x1="734.5" y1="815" x2="734.5" y2="835"/>
<line x1="770.75" y1="815" x2="770.75" y2="835"/>
<line x1="799.5" y1="815" x2="799.5" y2="835"/>
<line x1="834.5" y1="815" x2="834.5" y2="835"/>
<line x1="870.75" y1="815" x2="870.75" y2="835"/>
<line x1="907" y1="815" x2="907" y2="835"/>
<line x1="942" y1="815" x2="942" y2="835"/>
<line x1="978" y1="815" x2="978" y2="835"/>
<line x1="1014.25" y1="815" x2="1014.25" y2="835"/>
<line x1="1050.5" y1="815" x2="1050.5" y2="835"/>
<line x1="1078.25" y1="815" x2="1078.25" y2="835"/>
<line x1="1114.5" y1="815" x2="1114.5" y2="835"/>
<line x1="1150.75" y1="815" x2="1150.75" y2="835"/>
<line x1="1185.75" y1="815" x2="1185.75" y2="835"/>
<line x1="1222" y1="815" x2="1222" y2="835"/>
<line x1="1258" y1="815" x2="1258" y2="835"/>
<line x1="1294.5" y1="815" x2="1294.5" y2="835"/>
<line x1="1321.75" y1="815" x2="1321.75" y2="835"/>
<line x1="1358" y1="815" x2="1358" y2="835"/>
<line x1="1393.75" y1="815" x2="1393.75" y2="835"/>
<line x1="1429.5" y1="815" x2="1429.5" y2="835"/>
<line x1="1465.5" y1="815" x2="1465.5" y2="835"/>
<line x1="1487" y1="815" x2="1487" y2="835"/>
<line x1="1523.25" y1="815" x2="1523.25" y2="835"/>
<line x1="1559.5" y1="815" x2="1559.5" y2="835"/>
<line x1="1588" y1="815" x2="1588" y2="835"/>
<line x1="1623" y1="815" x2="1623" y2="835"/>
<line x1="1652" y1="815" x2="1652" y2="835"/>
<line x1="1680.5" y1="815" x2="1680.5" y2="835"/>
<line x1="1716.75" y1="815" x2="1716.75" y2="835"/>
<line x1="1753.25" y1="815" x2="1753.25" y2="835"/>
<line x1="1788.75" y1="815" x2="1788.75" y2="835"/>
<line x1="31.75" y1="815" x2="31.75" y2="854.7"/>
<line x1="183.25" y1="815" x2="183.25" y2="854.7"/>
<line x1="333" y1="835" x2="333" y2="854.7"/>
<line x1="477" y1="835" x2="477" y2="854.7"/>
<line x1="642" y1="815" x2="642" y2="854.7"/>
<line x1="770.75" y1="815" x2="770.75" y2="854.7"/>
<line x1="928.25" y1="815" x2="928.25" y2="854.7"/>
<line x1="1078.25" y1="815" x2="1078.25" y2="854.7"/>
<line x1="1229.5" y1="835" x2="1229.5" y2="854.7"/>
<line x1="1387" y1="815" x2="1387" y2="854.7"/>
<line x1="1523.25" y1="815" x2="1523.25" y2="854.7"/>
<line x1="1666.75" y1="835" x2="1666.75" y2="854.7"/>
</g>
<text class="ax" x="12.3" y="830.9">28</text>
<text class="ax" x="48.55" y="830.9">5</text>
<text class="ax" x="77.3" y="830.9">12</text>
<text class="ax" x="112.55" y="830.9">19</text>
<text class="ax" x="148.8" y="830.9">26</text>
<text class="ax" x="185.05" y="830.9">3</text>
<text class="ax" x="212.55" y="830.9">9</text>
<text class="ax" x="248.8" y="830.9">16</text>
<text class="ax" x="284.8" y="830.9">23</text>
<text class="ax" x="321.05" y="830.9">30</text>
<text class="ax" x="356.3" y="830.9">6</text>
<text class="ax" x="392.3" y="830.9">13</text>
<text class="ax" x="428.55" y="830.9">20</text>
<text class="ax" x="464.3" y="830.9">27</text>
<text class="ax" x="499.8" y="830.9">6</text>
<text class="ax" x="536.05" y="830.9">13</text>
<text class="ax" x="571.3" y="830.9">20</text>
<text class="ax" x="607.55" y="830.9">27</text>
<text class="ax" x="643.8" y="830.9">3</text>
<text class="ax" x="678.8" y="830.9">10</text>
<text class="ax" x="707.55" y="830.9">17</text>
<text class="ax" x="736.3" y="830.9">24</text>
<text class="ax" x="772.55" y="830.9">2</text>
<text class="ax" x="801.3" y="830.9">8</text>
<text class="ax" x="836.3" y="830.9">15</text>
<text class="ax" x="872.55" y="830.9">22</text>
<text class="ax" x="908.8" y="830.9">29</text>
<text class="ax" x="943.8" y="830.9">5</text>
<text class="ax" x="979.8" y="830.9">12</text>
<text class="ax" x="1016.05" y="830.9">19</text>
<text class="ax" x="1052.3" y="830.9">27</text>
<text class="ax" x="1080.05" y="830.9">3</text>
<text class="ax" x="1116.3" y="830.9">10</text>
<text class="ax" x="1152.55" y="830.9">17</text>
<text class="ax" x="1187.55" y="830.9">24</text>
<text class="ax" x="1223.8" y="830.9">31</text>
<text class="ax" x="1259.8" y="830.9">7</text>
<text class="ax" x="1296.3" y="830.9">14</text>
<text class="ax" x="1323.55" y="830.9">21</text>
<text class="ax" x="1359.8" y="830.9">28</text>
<text class="ax" x="1395.55" y="830.9">4</text>
<text class="ax" x="1431.3" y="830.9">11</text>
<text class="ax" x="1467.3" y="830.9">20</text>
<text class="ax" x="1488.8" y="830.9">25</text>
<text class="ax" x="1525.05" y="830.9">2</text>
<text class="ax" x="1561.3" y="830.9">10</text>
<text class="ax" x="1589.8" y="830.9">16</text>
<text class="ax" x="1624.8" y="830.9">23</text>
<text class="ax" x="1653.8" y="830.9">30</text>
<text class="ax" x="1682.3" y="830.9">6</text>
<text class="ax" x="1718.55" y="830.9">13</text>
<text class="ax" x="1755.05" y="830.9">20</text>
<text class="ax" x="1790.55" y="830.9">27</text>
<text class="ax" x="33.25" y="850.8">December</text>
<text class="ax" x="184.75" y="850.8">2017</text>
<text class="ax" x="334.5" y="850.8">February</text>
<text class="ax" x="478.5" y="850.8">March</text>
<text class="ax" x="643.5" y="850.8">April</text>
<text class="ax" x="772.25" y="850.8">May</text>
<text class="ax" x="929.75" y="850.8">June</text>
<text class="ax" x="1079.75" y="850.8">July</text>
<text class="ax" x="1231" y="850.8">August</text>
<text class="ax" x="1388.5" y="850.8">September</text>
<text class="ax" x="1524.75" y="850.8">October</text>
<text class="ax" x="1668.25" y="850.8">November</text>
<rect x="1815.5" y="816" width="64.5" height="65" fill="#f0f0f0"/>
<rect x="1817" y="818" width="57.6" height="33.6" fill="#f0f0f0"/>
<path d="M1817.7 851V818.9H1874" fill="none" stroke="#c6c6c6" stroke-width="1.5"/>
<path d="M1817.7 851H1874V819.5" fill="none" stroke="#fafafa" stroke-width="1.4"/>
<g fill="none" stroke="#ff2020" stroke-width="1.2">
<circle cx="1845.5" cy="834.6" r="10"/>
<path d="M1840.3 841.2q5.2-9 10.4 0"/>
</g>
<ellipse cx="1841.8" cy="831.4" rx="1.3" ry="1.8" fill="#ff2020"/><ellipse cx="1849.2" cy="831.4" rx="1.3" ry="1.8" fill="#ff2020"/>
<rect x="0" y="856" width="1880" height="25" fill="#f0f0f0"/>
<rect x="844" y="858.6" width="808.4" height="18.2" fill="#cdcdcd"/>
<rect x="0" y="855.6" width="1673.5" height="2.2" fill="#f8f8f8"/>
<path d="M10.3 863.8L4.8 868l5.5 4.2" fill="none" stroke="#585858" stroke-width="2.3"/>
<path d="M1660.6 864.2l5.6 3.7-5.6 3.7" fill="none" stroke="#585858" stroke-width="2.4"/>
<g stroke="#a2a2a2" stroke-width="1.4"><line x1="1676.8" y1="859.7" x2="1676.8" y2="875.7"/><line x1="1726.9" y1="859.7" x2="1726.9" y2="875.7"/><line x1="1819.2" y1="859.7" x2="1819.2" y2="875.7"/></g>
<g fill="none" stroke="#101010" stroke-width="1.7"><path d="M1692.6 864.6c-2.2-1.6-4.6-0.6-4.6 2v2.6"/><path d="M1688.4 871.2c2.2 1.6 4.6 0.6 4.6-2v-2.6"/></g>
<path d="M1690.4 860.9l3.9 2.5-3.6 2.7zM1690.6 874.1l-3.9-2.5 3.6-2.7z" fill="#101010"/>
<text x="1706.6" y="872.1" font-weight="bold" font-size="15" fill="#101010" style="font-family:'Liberation Serif',serif">D</text>
<path d="M1741.1 861.3l4.1 4.9h-2.8v2.3h2.8l-4.1 4.9-4.1-4.9h2.8v-2.3h-2.8z" fill="#101010"/>
<g stroke="#101010" stroke-width="1.3" fill="none"><line x1="1763.1" y1="863.5" x2="1763.1" y2="872.3"/><line x1="1758.6" y1="867.8" x2="1767.6" y2="867.8"/></g>
<path d="M1763.1 862l2.3 2.7h-4.6zM1763.1 873.6l2.3-2.7h-4.6zM1757.3 867.8l2.7-2.3v4.6zM1768.9 867.8l-2.7-2.3v4.6z" fill="#101010"/>
<g stroke="#101010" stroke-width="1.5" fill="none"><circle cx="1784.3" cy="867.2" r="5"/><line x1="1781.8" y1="866.6" x2="1786.8" y2="866.6" stroke-width="1.6"/>
<circle cx="1805.4" cy="867.1" r="5"/><line x1="1803.1" y1="866.9" x2="1807.7" y2="866.9" stroke-width="1.3"/><line x1="1805.4" y1="864.5" x2="1805.4" y2="869.4" stroke-width="1.3"/></g>
<path d="M1836.3 862v11.7l-6.5-5.85zM1852.3 862v11.7l6.7-5.85z" fill="#101010"/>
<rect x="1871.8" y="862" width="9" height="9.4" fill="#f4f4f4" stroke="#101010" stroke-width="1.5"/><line x1="1871.8" y1="863" x2="1880" y2="863" stroke="#101010" stroke-width="2.4"/>
<g stroke="#b0b0b0" stroke-width="1.1"><line x1="1874.5" y1="866.8" x2="1880" y2="866.8"/><line x1="1874.5" y1="869" x2="1880" y2="869"/></g>
<rect x="0" y="0" width="1876" height="30.4" fill="#bfcddb"/>
<rect x="0" y="0" width="1877" height="1.1" fill="#adadad"/>
<rect x="0" y="1.0" width="1876" height="1.2" fill="#e2e9f0"/>
<rect x="0" y="26.9" width="1876" height="1.5" fill="#ececee"/>
<rect x="0" y="28.4" width="1877" height="2" fill="#7e7e7e"/>
<rect x="3.4" y="7.7" width="23.3" height="15.5" fill="#ffffff" stroke="#101010" stroke-width="1.5"/>
<line x1="3.4" y1="10.5" x2="26.7" y2="10.5" stroke="#101010" stroke-width="1.1"/>
<text x="30.3" y="16.2" font-size="14.6" fill="#10101c" textLength="61.7" lengthAdjust="spacingAndGlyphs">VAPORES</text>
<text x="97.3" y="16.2" font-size="14.6" fill="#10101c" textLength="54.7" lengthAdjust="spacingAndGlyphs">(32.9900,</text>
<text x="157.3" y="16.2" font-size="14.6" fill="#10101c" textLength="50.7" lengthAdjust="spacingAndGlyphs">33.2400,</text>
<text x="213.6" y="16.2" font-size="14.6" fill="#10101c" textLength="51.4" lengthAdjust="spacingAndGlyphs">32.1100,</text>
<text x="270.3" y="16.2" font-size="14.6" fill="#10101c" textLength="51" lengthAdjust="spacingAndGlyphs">33.0000,</text>
<text x="326.6" y="16.2" font-size="14.6" fill="#10101c" textLength="63" lengthAdjust="spacingAndGlyphs">+0.56000)</text>
<rect x="1821.1" y="3" width="24.9" height="22.5" fill="#7a7a7a"/>
<rect x="1821.1" y="3" width="23.4" height="21" fill="#ffffff"/>
<rect x="1822.1" y="4" width="22.4" height="20" fill="#f0f0f0"/>
<rect x="1848.8" y="3" width="24.9" height="22.5" fill="#7a7a7a"/>
<rect x="1848.8" y="3" width="23.4" height="21" fill="#ffffff"/>
<rect x="1849.8" y="4" width="22.4" height="20" fill="#f0f0f0"/>
<g fill="none" stroke="#000" stroke-width="1.4"><path d="M1831.1 12.4V7.8h8.2v6.8h-3.6"/><rect x="1827" y="12.8" width="8.2" height="6.8" fill="#f0f0f0"/></g>
<g stroke="#000" stroke-width="2.2"><line x1="1830.4" y1="8" x2="1840" y2="8"/><line x1="1826.3" y1="13" x2="1835.9" y2="13"/></g>
<path d="M1855.7 10l9.6 9.6M1865.3 10l-9.6 9.6" stroke="#000" stroke-width="2.4" stroke-linecap="round" fill="none"/>
<rect x="0" y="0" width="1" height="30" fill="#dfe3e8"/>
<rect x="1877" y="30.4" width="3" height="826" fill="#eeeeee"/>
<rect x="1876" y="0" width="4" height="30.4" fill="#f0f0f0"/>
<rect x="1879.2" y="0" width="0.8" height="881" fill="#c2c2c2"/>
</svg>
</body></html>
